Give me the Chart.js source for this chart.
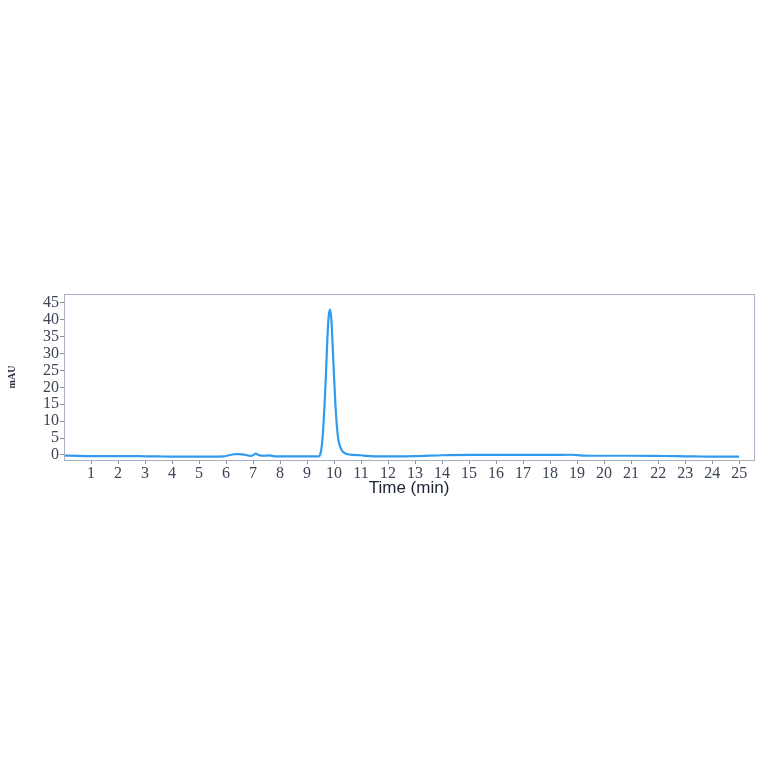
<!DOCTYPE html>
<html lang="en">
<head>
    <meta charset="UTF-8">
    <title>Chromatogram</title>
    <script src="https://cdn.jsdelivr.net/npm/chart.js"></script>
    <style>
        html, body { margin: 0; padding: 0; background: #ffffff; }
        .wrap { position: relative; width: 764px; height: 764px; }
    </style>
</head>
<body>
    <div class="wrap">
        <canvas id="chroma" width="764" height="764"></canvas>
    </div>
<script>
    // retention time (min) and detector signal (mAU)
    const timeMin = [0, 0.5, 1, 1.5, 2, 2.5, 3, 3.5, 4, 4.5, 5, 5.5, 5.9, 6.1, 6.3, 6.5, 6.7, 6.9, 7.0, 7.1, 7.2, 7.4, 7.6, 7.8,
        8, 8.5, 9, 9.3, 9.45, 9.5, 9.55, 9.6, 9.65, 9.7, 9.75, 9.8, 9.85, 9.9, 9.95, 10.0, 10.05, 10.1, 10.15, 10.2,
        10.3, 10.4, 10.5, 10.7, 11, 11.2, 11.5, 12, 13, 14, 15, 16, 17, 18, 18.8, 19.2, 20, 21, 22, 22.7, 23.4, 24, 25];
    const mAU = [-0.2, -0.3, -0.35, -0.35, -0.35, -0.35, -0.4, -0.45, -0.5, -0.5, -0.5, -0.5, -0.45, -0.1, 0.2, 0.25, 0.05, -0.3, -0.1, 0.4, 0.0, -0.25, -0.15, -0.4,
        -0.45, -0.45, -0.45, -0.45, -0.4, 0.5, 3, 8, 15, 24, 34, 41, 43, 40, 32, 23, 15, 9, 5, 3,
        1.2, 0.5, 0.2, 0.0, -0.1, -0.3, -0.4, -0.4, -0.35, -0.1, 0.0, 0.0, 0.0, 0.0, 0.05, -0.2, -0.25, -0.25, -0.3, -0.35, -0.45, -0.5, -0.5];

    const xTicks = [1, 2, 3, 4, 5, 6, 7, 8, 9, 10, 11, 12, 13, 14, 15, 16, 17, 18, 19, 20, 21, 22, 23, 24, 25];
    const yTicks = [0, 5, 10, 15, 20, 25, 30, 35, 40, 45];

    const points = timeMin.map((t, i) => ({ x: t, y: mAU[i] }));

    // box round the plot area
    const frame = {
        id: "frame",
        afterDraw(chart) {
            const a = chart.chartArea;
            const c = chart.ctx;
            c.save();
            c.strokeStyle = "#a9b0bf";
            c.lineWidth = 1;
            c.strokeRect(Math.round(a.left) + 0.5, Math.round(a.top) + 0.5, Math.round(a.right - a.left), Math.round(a.bottom - a.top));
            c.restore();
        }
    };

    const tickFont = { family: "'Liberation Serif', 'DejaVu Serif', serif", size: 16 };

    new Chart(document.getElementById("chroma").getContext("2d"), {
        type: "line",
        data: {
            datasets: [{
                data: points,
                borderColor: "#2e9bf0",
                borderWidth: 2.2,
                pointRadius: 0,
                cubicInterpolationMode: "monotone",
                fill: false
            }]
        },
        options: {
            responsive: false,
            animation: false,
            plugins: { legend: { display: false }, tooltip: { enabled: false } },
            layout: { padding: { left: 0, top: 294, right: 10, bottom: 262 } },
            scales: {
                x: {
                    type: "linear",
                    min: 0,
                    max: 25.55,
                    afterBuildTicks: (s) => { s.ticks = xTicks.map(v => ({ value: v })); },
                    afterFit: (s) => { s.height = 42; },
                    grid: { drawOnChartArea: false, drawTicks: true, tickLength: 4, color: "#8a92a2" },
                    border: { display: false },
                    ticks: { color: "#3c4456", font: tickFont, padding: 0, maxRotation: 0, autoSkip: false },
                    title: {
                        display: true,
                        text: "Time (min)",
                        color: "#1c2333",
                        font: { family: "'Liberation Sans', Arial, sans-serif", size: 17 },
                        padding: { top: 0, bottom: 3 }
                    }
                },
                y: {
                    min: -1.5,
                    max: 47.6,
                    afterBuildTicks: (s) => { s.ticks = yTicks.map(v => ({ value: v })); },
                    afterFit: (s) => { s.width = 64; },
                    grid: { drawOnChartArea: false, drawTicks: true, tickLength: 4, color: "#8a92a2" },
                    border: { display: false },
                    ticks: { color: "#3c4456", font: tickFont, padding: 1, autoSkip: false },
                    title: {
                        display: true,
                        text: "mAU",
                        color: "#2a2f3a",
                        font: { family: "'Liberation Serif', serif", size: 10, weight: "bold" },
                        padding: { top: 6, bottom: 0 }
                    }
                }
            }
        },
        plugins: [frame]
    });
</script>
</body>
</html>
